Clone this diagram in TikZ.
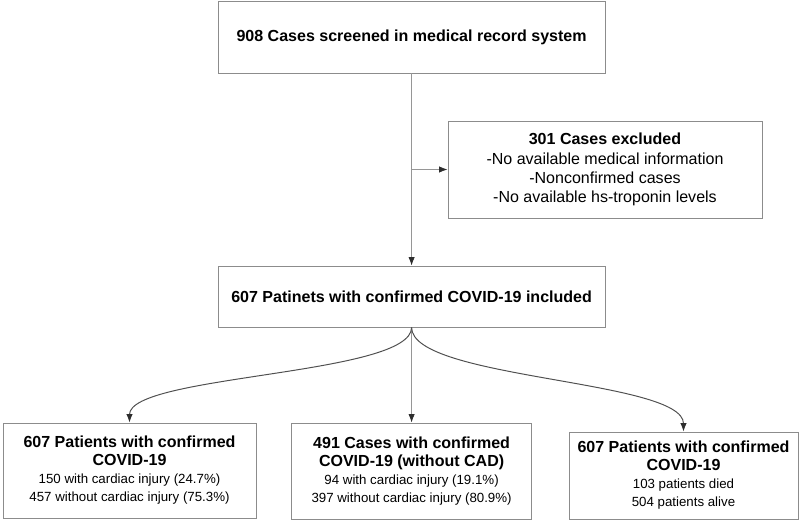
\documentclass[tikz,border=0pt]{standalone}
\usepackage{fontspec}
\setmainfont{Liberation Sans}
\usepackage{xcolor}
\usepackage{tikz}
\usetikzlibrary{arrows.meta}
\definecolor{rim}{RGB}{140, 140, 140}
\definecolor{wire}{RGB}{150, 150, 150}
\definecolor{bend}{RGB}{80, 80, 80}
\definecolor{tip}{RGB}{45, 45, 45}
\newcommand{\headline}[1]{{\fontsize{11.4}{13.6}\selectfont\bfseries #1}}

\begin{document}
\begin{tikzpicture}[
    box/.style={draw=rim, line width=0.6pt, fill=white, align=center, inner sep=0pt},
    bigtext/.style={font=\fontsize{11.4}{13.7}\selectfont},
    smalltext/.style={font=\fontsize{9.45}{12.8}\selectfont},
    flow/.style={draw=wire, line width=0.6pt, -{Latex[length=6pt, width=4.5pt, color=tip]}},
    curl/.style={draw=bend, line width=0.7pt, -{Latex[length=6pt, width=4.5pt, color=tip]}}
]
    \useasboundingbox (0,0) rectangle (20,13);

    % Screening and exclusion
    \node[box, bigtext, minimum width=9.675cm, minimum height=1.8cm] (screen) at (10.29,12.075)
        {\bfseries 908 Cases screened in medical record system};
    \node[box, bigtext, minimum width=7.85cm, minimum height=2.425cm] (excl) at (15.125,8.7625)
        {\headline{301 Cases excluded}\\-No available medical information\\-Nonconfirmed cases\\-No available hs-troponin levels};
    \node[box, bigtext, minimum width=9.675cm, minimum height=1.525cm] (incl) at (10.29,5.5875)
        {\bfseries 607 Patinets with confirmed COVID-19 included};

    % Three cohorts
    \node[box, smalltext, minimum width=6.325cm, minimum height=2.375cm] (grpa) at (3.2375,1.2375)
        {\headline{607 Patients with confirmed}\\\headline{COVID-19}\\150 with cardiac injury (24.7\%)\\457 without cardiac injury (75.3\%)};
    \node[box, smalltext, minimum width=6cm, minimum height=2.4cm] (grpb) at (10.29,1.225)
        {\headline{491 Cases with confirmed}\\\headline{COVID-19 (without CAD)}\\94 with cardiac injury (19.1\%)\\397 without cardiac injury (80.9\%)};
    \node[box, smalltext, minimum width=5.725cm, minimum height=2.175cm] (grpc) at (17.0875,1.1125)
        {\headline{607 Patients with confirmed}\\\headline{COVID-19}\\103 patients died\\504 patients alive};

    % Connectors
    \draw[flow] (screen) -- (incl);
    \draw[flow] (screen.south |- excl.west) -- (excl.west);
    \draw[flow] (incl) -- (grpb);
    \draw[curl] (incl.south) .. controls +(0,-1.2) and +(0,1.2) .. (grpa.north);
    \draw[curl] (incl.south) .. controls +(0,-1.3) and +(0,1.3) .. (grpc.north);
\end{tikzpicture}
\end{document}
